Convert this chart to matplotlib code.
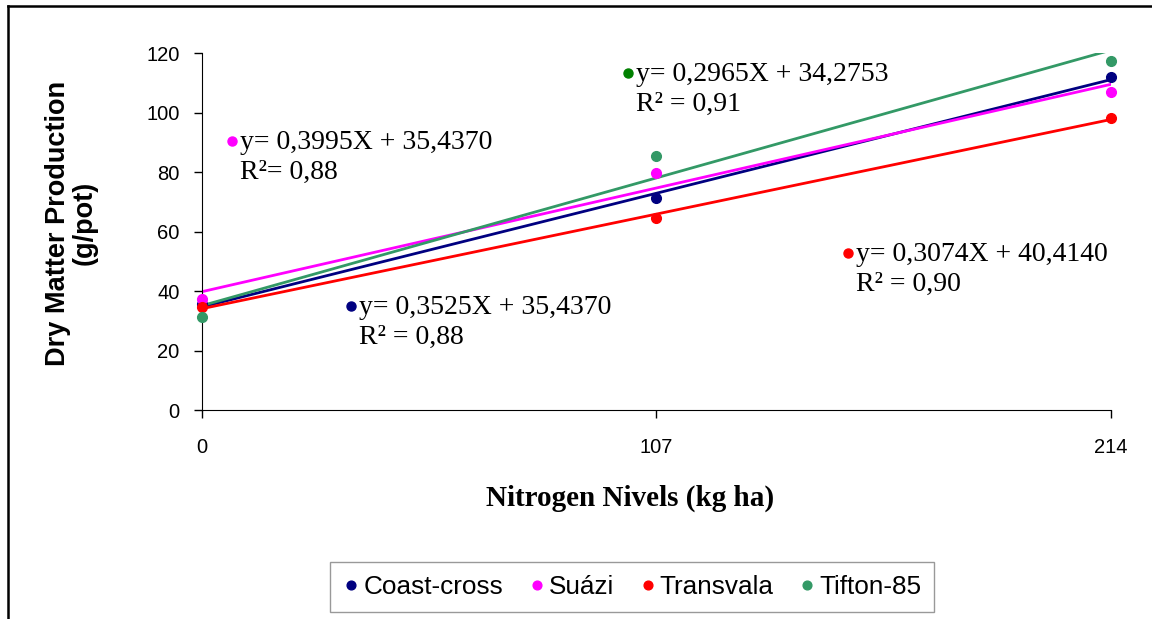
import matplotlib.pyplot as plt
import numpy as np

# data
nitrogen = [0, 107, 214]
cultivars = ['Coast-cross', 'Suázi', 'Transvala', 'Tifton-85']
colors = ['#000080', '#FF00FF', '#FF0000', '#339966']
coast_cross = [35.5, 71.2, 111.9]
suazi = [37.2, 79.8, 106.9]
transvala = [34.7, 64.6, 98.3]
tifton = [31.4, 85.4, 117.3]
series = [coast_cross, suazi, transvala, tifton]

# equation labels (dot position in data units, text)
label_x = [35.1, 7.1, 152.1, 100.3]
label_y = [35.0, 90.4, 52.8, 113.3]
label_dot_colors = ['#000080', '#FF00FF', '#FF0000', '#008000']
label_text = ['y= 0,3525X + 35,4370\nR\u00b2 = 0,88',
              'y= 0,3995X + 35,4370\nR\u00b2= 0,88',
              'y= 0,3074X + 40,4140\nR\u00b2 = 0,90',
              'y= 0,2965X + 34,2753\nR\u00b2 = 0,91']

fig = plt.figure(figsize=(11.52, 6.19), dpi=100)
ax = fig.add_axes([0.1753, 0.3376, 0.789, 0.5767])

# outer frame (left and top edges visible)
fig.add_artist(plt.Line2D([8/1152, 8/1152], [0, 1 - 6/619], transform=fig.transFigure, color='black', lw=1.8))
fig.add_artist(plt.Line2D([8/1152, 1], [1 - 6/619, 1 - 6/619], transform=fig.transFigure, color='black', lw=1.8))

xs = np.array(nitrogen)
for name, vals, c in zip(cultivars, series, colors):
    slope, icpt = np.polyfit(xs, vals, 1)
    ax.plot(xs, slope * xs + icpt, color=c, lw=2.0, zorder=2)
    ax.plot(xs, vals, 'o', color=c, ms=7, label=name, zorder=3, clip_on=False)

for x, y, c, t in zip(label_x, label_y, label_dot_colors, label_text):
    ax.plot([x], [y], 'o', color=c, ms=6.5, zorder=3)
    ax.annotate(t, (x, y), xytext=(6, 8), textcoords='offset points',
                va='top', ha='left', fontsize=20, family='Liberation Serif',
                linespacing=1.28)

ax.set_xlim(0, 214)
ax.set_ylim(0, 120)
ax.set_xticks(nitrogen)
ax.set_yticks(range(0, 121, 20))
ax.tick_params(axis='both', labelsize=14.5, length=6, width=1, direction='out')
ax.tick_params(axis='x', pad=14)
ax.tick_params(axis='y', pad=10)
for lab in ax.get_xticklabels() + ax.get_yticklabels():
    lab.set_family('Liberation Sans')
ax.spines['top'].set_visible(False)
ax.spines['right'].set_visible(False)

ax.set_ylabel('Dry Matter Production\n(g/pot)', fontsize=19.5, fontweight='bold',
              family='Liberation Sans', linespacing=1.0)
ax.yaxis.set_label_coords(-0.115, 0.524)
ax.set_xlabel('Nitrogen Nivels (kg ha)', fontsize=21, fontweight='bold',
              family='Liberation Serif')
ax.xaxis.set_label_coords(0.471, -0.21)

handles, labels = ax.get_legend_handles_labels()
leg = fig.legend(handles, labels, loc='center', bbox_to_anchor=(0.549, 0.051), ncol=4,
                 fancybox=False, edgecolor='#808080', handlelength=0.6, handletextpad=0.15,
                 columnspacing=1.0, markerscale=0.9, borderpad=0.5,
                 prop={'family': 'Liberation Sans', 'size': 18.8})
leg.get_frame().set_linewidth(1.0)

plt.savefig('out.png', dpi=100)
